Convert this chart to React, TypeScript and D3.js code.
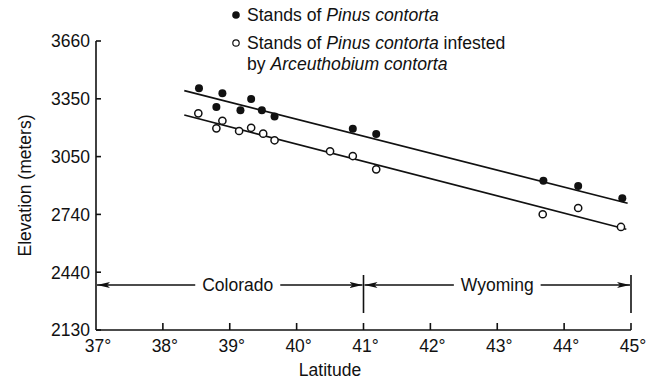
import { useEffect, useRef } from "react";
import * as d3 from "d3";

// Latitude ticks (degrees) and elevation ticks (drawn from feet, labelled in meters)
const latTicks = [37, 38, 39, 40, 41, 42, 43, 44, 45];
const elevTickFeet = [7000, 8000, 9000, 10000, 11000, 12000];
const elevTickLabels = ["2130", "2440", "2740", "3050", "3350", "3660"];

// Stands of Pinus contorta (filled dots)
const healthyLat = [38.54, 38.8, 38.89, 39.16, 39.32, 39.48, 39.67, 40.84, 41.19, 43.69, 44.21, 44.87];
const healthyElev = [3408, 3310, 3382, 3292, 3352, 3292, 3260, 3195, 3167, 2921, 2893, 2828];

// Stands infested by Arceuthobium (open dots)
const infestedLat = [38.53, 38.8, 38.89, 39.14, 39.32, 39.5, 39.67, 40.5, 40.84, 41.19, 43.68, 44.21, 44.85];
const infestedElev = [3276, 3197, 3237, 3183, 3200, 3169, 3134, 3076, 3051, 2981, 2744, 2777, 2677];

// Fitted lines (end points)
const healthyFitLat = [38.32, 44.95];
const healthyFitElev = [3396, 2802];
const infestedFitLat = [38.32, 44.93];
const infestedFitElev = [3267, 2665];

// States along the latitude axis
const regionNames = ["Colorado", "Wyoming"];
const regionBounds = [37, 41, 45];

const FT = 0.3048;
const FONT = "'Liberation Sans', Arial, Helvetica, sans-serif";

export default function App() {
  const svgRef = useRef<SVGSVGElement>(null);

  useEffect(() => {
    if (!svgRef.current) return;
    const svg = d3.select(svgRef.current);
    svg.selectAll("*").remove();

    const x = d3.scaleLinear().domain([37, 45]).range([96, 631]);
    const y = d3
      .scaleLinear()
      .domain([7000 * FT, 12000 * FT])
      .range([330, 41]);

    const ink = "#111";

    // arrow marker
    svg
      .append("defs")
      .append("marker")
      .attr("id", "arr")
      .attr("markerUnits", "userSpaceOnUse")
      .attr("markerWidth", 14)
      .attr("markerHeight", 8)
      .attr("refX", 13)
      .attr("refY", 3)
      .attr("orient", "auto-start-reverse")
      .append("path")
      .attr("d", "M0,0 L13,3 L0,6 L3,3 Z")
      .attr("fill", ink);

    // Axes (inward ticks)
    const axes = svg.append("g").attr("stroke", ink).attr("stroke-width", 1.6);
    axes
      .append("line")
      .attr("x1", x(37))
      .attr("x2", x(37))
      .attr("y1", y(12000 * FT))
      .attr("y2", y(7000 * FT));
    axes
      .append("line")
      .attr("x1", x(37))
      .attr("x2", x(45))
      .attr("y1", y(7000 * FT))
      .attr("y2", y(7000 * FT));

    axes
      .selectAll(".ytick")
      .data(elevTickFeet)
      .enter()
      .append("line")
      .attr("x1", x(37))
      .attr("x2", x(37) + 5)
      .attr("y1", (d) => y(d * FT))
      .attr("y2", (d) => y(d * FT));

    axes
      .selectAll(".xtick")
      .data(latTicks.slice(1))
      .enter()
      .append("line")
      .attr("x1", (d) => x(d))
      .attr("x2", (d) => x(d))
      .attr("y1", y(7000 * FT))
      .attr("y2", y(7000 * FT) - 7);

    svg
      .selectAll(".ylab")
      .data(elevTickFeet)
      .enter()
      .append("text")
      .attr("x", x(37) - 6)
      .attr("y", (d) => y(d * FT))
      .attr("dy", "0.36em")
      .attr("text-anchor", "end")
      .attr("font-family", FONT)
      .attr("font-size", 17.5)
      .attr("fill", ink)
      .text((d, i) => elevTickLabels[i]);

    svg
      .selectAll(".xlab")
      .data(latTicks)
      .enter()
      .append("text")
      .attr("x", (d) => x(d) + 2)
      .attr("y", 352)
      .attr("text-anchor", "middle")
      .attr("font-family", FONT)
      .attr("font-size", 17.5)
      .attr("fill", ink)
      .text((d) => `${d}°`);

    // Axis titles
    svg
      .append("text")
      .attr("transform", `translate(31, ${(y(12000 * FT) + y(7000 * FT)) / 2}) rotate(-90)`)
      .attr("text-anchor", "middle")
      .attr("font-family", FONT)
      .attr("font-size", 17.5)
      .attr("fill", ink)
      .text("Elevation (meters)");

    svg
      .append("text")
      .attr("x", 330)
      .attr("y", 376)
      .attr("text-anchor", "middle")
      .attr("font-family", FONT)
      .attr("font-size", 17.5)
      .attr("fill", ink)
      .text("Latitude");

    // State ranges
    const arrowY = 285;
    const states = svg.append("g");
    states
      .selectAll(".bound")
      .data(regionBounds.slice(1))
      .enter()
      .append("line")
      .attr("x1", (d) => x(d))
      .attr("x2", (d) => x(d))
      .attr("y1", 275)
      .attr("y2", 313)
      .attr("stroke", ink)
      .attr("stroke-width", 1.6);

    regionNames.forEach((name, i) => {
      const x0 = x(regionBounds[i]);
      const x1 = x(regionBounds[i + 1]);
      const mid = (x0 + x1) / 2 + (i === 0 ? 8 : 0);
      const label = states
        .append("text")
        .attr("x", mid)
        .attr("y", arrowY)
        .attr("dy", "0.36em")
        .attr("text-anchor", "middle")
        .attr("font-family", FONT)
        .attr("font-size", 17.5)
        .attr("fill", ink)
        .text(name);
      const w = (label.node() as SVGTextElement).getComputedTextLength();
      const gap = 7;
      states
        .append("line")
        .attr("x1", mid - w / 2 - gap)
        .attr("x2", x0 + 1)
        .attr("y1", arrowY)
        .attr("y2", arrowY)
        .attr("stroke", ink)
        .attr("stroke-width", 1.4)
        .attr("marker-end", "url(#arr)");
      states
        .append("line")
        .attr("x1", mid + w / 2 + gap)
        .attr("x2", x1 - 1)
        .attr("y1", arrowY)
        .attr("y2", arrowY)
        .attr("stroke", ink)
        .attr("stroke-width", 1.4)
        .attr("marker-end", "url(#arr)");
    });

    // Fitted lines
    svg
      .append("path")
      .attr(
        "d",
        d3.line<number>().x((d) => x(healthyFitLat[d])).y((d) => y(healthyFitElev[d]))([0, 1])
      )
      .attr("stroke", ink)
      .attr("stroke-width", 1.6)
      .attr("fill", "none");
    svg
      .append("path")
      .attr(
        "d",
        d3.line<number>().x((d) => x(infestedFitLat[d])).y((d) => y(infestedFitElev[d]))([0, 1])
      )
      .attr("stroke", ink)
      .attr("stroke-width", 1.6)
      .attr("fill", "none");

    // Points
    svg
      .selectAll(".healthy")
      .data(healthyLat)
      .enter()
      .append("circle")
      .attr("cx", (d) => x(d))
      .attr("cy", (d, i) => y(healthyElev[i]))
      .attr("r", 4)
      .attr("fill", ink);

    svg
      .selectAll(".infested")
      .data(infestedLat)
      .enter()
      .append("circle")
      .attr("cx", (d) => x(d))
      .attr("cy", (d, i) => y(infestedElev[i]))
      .attr("r", 3.6)
      .attr("fill", "#fff")
      .attr("stroke", ink)
      .attr("stroke-width", 1.5);

    // Legend
    const legend = svg.append("g").attr("font-family", FONT).attr("font-size", 17.6).attr("fill", ink);
    legend.append("circle").attr("cx", 236).attr("cy", 15).attr("r", 3.8).attr("fill", ink);
    legend
      .append("circle")
      .attr("cx", 236)
      .attr("cy", 43)
      .attr("r", 3.2)
      .attr("fill", "#fff")
      .attr("stroke", ink)
      .attr("stroke-width", 1.2);

    const l1 = legend.append("text").attr("x", 247).attr("y", 21);
    l1.append("tspan").text("Stands of ");
    l1.append("tspan").attr("font-style", "italic").text("Pinus contorta");

    const l2 = legend.append("text").attr("x", 247).attr("y", 49);
    l2.append("tspan").text("Stands of ");
    l2.append("tspan").attr("font-style", "italic").text("Pinus contorta");
    l2.append("tspan").text(" infested");

    const l3 = legend.append("text").attr("x", 247).attr("y", 70);
    l3.append("tspan").text("by ");
    l3.append("tspan").attr("font-style", "italic").text("Arceuthobium contorta");
  }, []);

  return (
    <div style={{ position: "fixed", left: 0, top: 0, background: "#fff" }}>
      <svg ref={svgRef} width={658} height={381} style={{ display: "block" }}></svg>
    </div>
  );
}
